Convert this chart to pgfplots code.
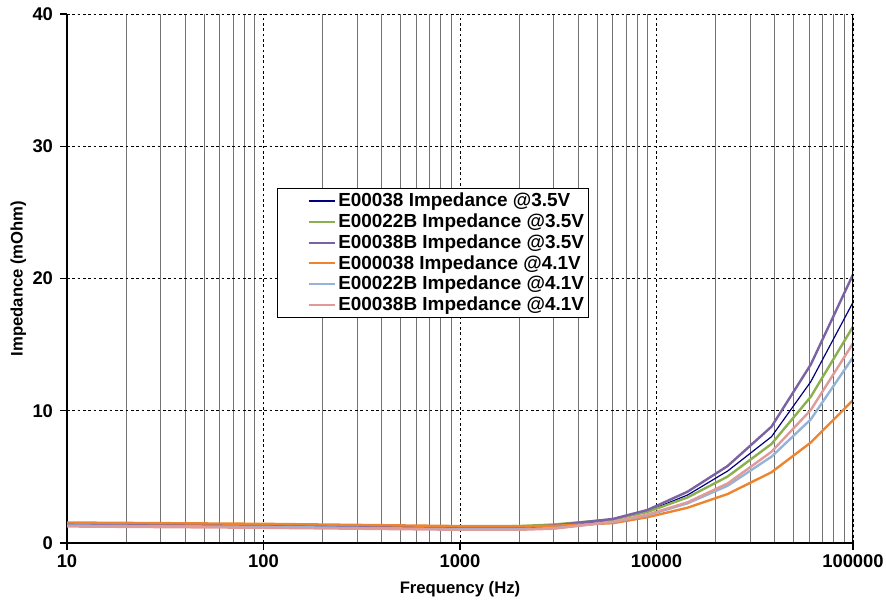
\documentclass[border=0pt]{standalone}
\usepackage{pgfplots}
\pgfplotsset{compat=1.18}
\usepackage{fontspec}
\setmainfont{Liberation Sans}
\definecolor{cBlue}{HTML}{000080}
\definecolor{cGreen}{HTML}{8CB050}
\definecolor{cPurple}{HTML}{7B62A3}
\definecolor{cOrange}{HTML}{EC8430}
\definecolor{cLBlue}{HTML}{95B3D7}
\definecolor{cPink}{HTML}{E09A9A}
\begin{document}
\begin{tikzpicture}[x=0.75pt,y=0.75pt]
\useasboundingbox (-67,-57) rectangle (819,543);
\begin{axis}[
  scale only axis,
  width=589.5pt, height=396.75pt,
  xmode=log, log basis x=10,
  xmin=10, xmax=100000, ymin=0, ymax=40,
  xtick={10,100,1000,10000,100000},
  xticklabels={10,100,1000,10000,100000},
  minor xtick={20,30,40,50,60,70,80,90,200,300,400,500,600,700,800,900,2000,3000,4000,5000,6000,7000,8000,9000,20000,30000,40000,50000,60000,70000,80000,90000},
  ytick={0,10,20,30,40},
  axis x line*=bottom, axis y line*=left,
  axis line style={line width=0.9pt, -},
  tick style={black, line width=0.9pt},
  major tick length=5pt,
  minor tick length=0pt,
  tick align=outside,
  xmajorgrids, ymajorgrids, xminorgrids,
  major grid style={black, line width=0.6pt, dash pattern=on 2pt off 2pt},
  minor grid style={black!55, line width=0.75pt},
  font=\fontsize{13.8pt}{16pt}\selectfont\bfseries,
  tick label style={font=\fontsize{13.8pt}{16pt}\selectfont\bfseries},
  yticklabel style={xshift=-2pt},
  /pgf/number format/assume math mode=true,
  xlabel={Frequency (Hz)}, ylabel={Impedance (mOhm)},
  xlabel style={font=\fontsize{12.5pt}{15pt}\selectfont\bfseries, yshift=-3.5pt},
  ylabel style={font=\fontsize{12.5pt}{15pt}\selectfont\bfseries, yshift=-2pt},
  legend style={at={(rel axis cs:0.267,0.671)}, anchor=north west, draw=black, line width=0.6pt, fill=white,
    font=\fontsize{14.2pt}{16pt}\selectfont\bfseries, cells={anchor=west}, row sep=-0.2pt, inner xsep=1pt, inner ysep=1.5pt},
  legend image code/.code={\path[draw=none] (-22.5pt,0pt) -- (0pt,0pt); \draw[#1, line width=1.5pt] (0pt,0pt) -- (19.5pt,0pt);},
  clip=true,
]
\addplot[cBlue, line width=0.9pt] coordinates {(10,1.38) (100,1.30) (1000,1.13) (2000,1.15) (3000,1.25) (6000,1.75) (9000,2.4) (14400,3.63) (23000,5.44) (38500,8.04) (61000,12.2) (100000,18.2)};
\addlegendentry{E00038 Impedance @3.5V}
\addplot[cGreen, line width=1.8pt] coordinates {(10,1.42) (100,1.33) (1000,1.2) (2000,1.28) (3000,1.4) (6000,1.78) (9000,2.35) (14400,3.45) (23000,5.02) (38500,7.49) (61000,11.06) (100000,16.36)};
\addlegendentry{E00022B Impedance @3.5V}
\addplot[cPurple, line width=1.8pt] coordinates {(10,1.40) (100,1.32) (1000,1.15) (2000,1.2) (3000,1.33) (6000,1.82) (9000,2.5) (14400,3.88) (23000,5.82) (38500,8.8) (61000,13.5) (100000,20.3)};
\addlegendentry{E00038B Impedance @3.5V}
\addplot[cOrange, line width=1.8pt] coordinates {(10,1.55) (100,1.45) (1000,1.28) (2000,1.27) (3000,1.3) (6000,1.5) (9000,1.95) (14400,2.67) (23000,3.7) (38500,5.35) (61000,7.6) (100000,10.8)};
\addlegendentry{E000038 Impedance @4.1V}
\addplot[cLBlue, line width=1.8pt] coordinates {(10,1.32) (100,1.22) (1000,1.05) (2000,1.05) (3000,1.12) (6000,1.58) (9000,2.1) (14400,3.0) (23000,4.33) (38500,6.53) (61000,9.35) (100000,14.04)};
\addlegendentry{E00022B Impedance @4.1V}
\addplot[cPink, line width=1.8pt] coordinates {(10,1.25) (100,1.15) (1000,1.0) (2000,1.0) (3000,1.08) (6000,1.6) (9000,2.15) (14400,3.08) (23000,4.5) (38500,6.9) (61000,10.06) (100000,15.1)};
\addlegendentry{E00038B Impedance @4.1V}
\draw[black, line width=0.9pt] (rel axis cs:1,0) -- (rel axis cs:1,1);
\end{axis}
\end{tikzpicture}
\end{document}
